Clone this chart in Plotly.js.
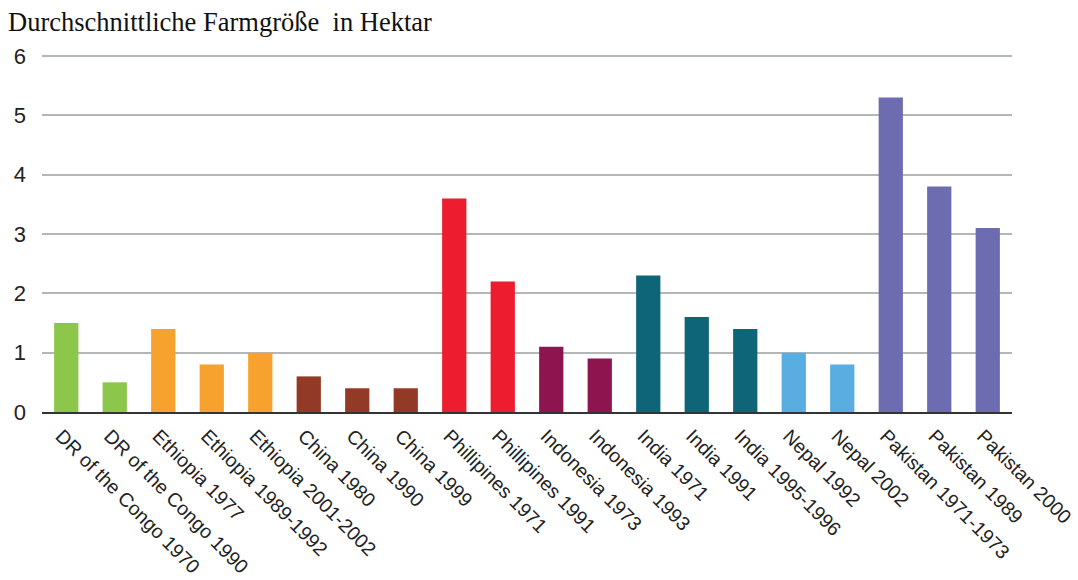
<!DOCTYPE html>
<html>
<head>
<meta charset="utf-8">
<script src="https://cdn.plot.ly/plotly-3.0.1.min.js"></script>
<style>html,body{margin:0;padding:0;background:#fff;}#chart{width:1078px;height:580px;}</style>
</head>
<body>
<div id="chart"></div>
<script>
const categories = [
  "DR of the Congo 1970", "DR of the Congo 1990", "Ethiopia 1977", "Ethiopia 1989-1992",
  "Ethiopia 2001-2002", "China 1980", "China 1990", "China 1999", "Phillipines 1971",
  "Phillipines 1991", "Indonesia 1973", "Indonesia 1993", "India 1971", "India 1991",
  "India 1995-1996", "Nepal 1992", "Nepal 2002", "Pakistan 1971-1973", "Pakistan 1989",
  "Pakistan 2000"
];
const values = [1.5, 0.5, 1.4, 0.8, 1.0, 0.6, 0.4, 0.4, 3.6, 2.2, 1.1, 0.9, 2.3, 1.6, 1.4, 1.0, 0.8, 5.3, 3.8, 3.1];
const countryOf = ["DRC","DRC","ETH","ETH","ETH","CHN","CHN","CHN","PHL","PHL","IDN","IDN","IND","IND","IND","NPL","NPL","PAK","PAK","PAK"];
const countryColors = {
  DRC: "#8cc64b", ETH: "#f7a12e", CHN: "#933a26", PHL: "#ed1c2e",
  IDN: "#8e1450", IND: "#0f6578", NPL: "#5aade0", PAK: "#6e6cb0"
};
const yTicks = [0, 1, 2, 3, 4, 5, 6];
const titleText = "Durchschnittliche Farmgröße&nbsp; in Hektar";

const trace = {
  type: "bar",
  x: categories,
  y: values,
  marker: { color: countryOf.map(c => countryColors[c]), line: { width: 0 } },
  hoverinfo: "x+y"
};

const layout = {
  width: 1078,
  height: 580,
  paper_bgcolor: "#ffffff",
  plot_bgcolor: "#ffffff",
  margin: { l: 42, r: 66, t: 53, b: 168, pad: 0 },
  bargap: 0.5,
  showlegend: false,
  title: {
    text: titleText,
    font: { family: "Liberation Serif, Times New Roman, serif", size: 26.5, color: "#111" },
    xref: "container", yref: "container",
    x: 8 / 1078, xanchor: "left",
    y: 1 - 12 / 580, yanchor: "top",
    pad: { t: 0, l: 0, b: 0, r: 0 }
  },
  xaxis: {
    type: "category",
    tickangle: 45,
    tickfont: { family: "Liberation Sans, Arial, sans-serif", size: 19.5, color: "#222" },
    showgrid: false,
    showline: true,
    linecolor: "#333",
    linewidth: 2,
    ticks: "",
    ticklabelstandoff: 3,
    ticklabelshift: -5,
    zeroline: false,
    fixedrange: true
  },
  yaxis: {
    range: [0, 6.05],
    tickvals: yTicks,
    ticktext: yTicks.map(String),
    tickfont: { family: "Liberation Sans, Arial, sans-serif", size: 22, color: "#222" },
    showgrid: true,
    gridcolor: "#b3b7ba",
    gridwidth: 2,
    zeroline: false,
    showline: false,
    ticks: "",
    ticklabelstandoff: 15,
    fixedrange: true
  }
};

Plotly.newPlot("chart", [trace], layout, { displayModeBar: false, staticPlot: true });
</script>
</body>
</html>
